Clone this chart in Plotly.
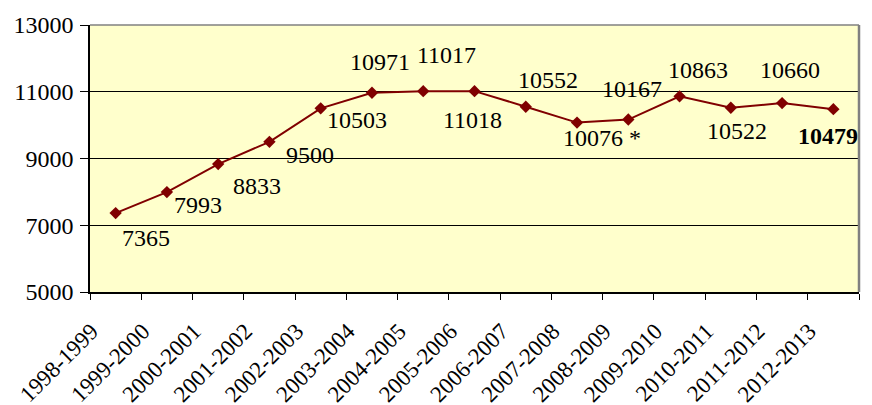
import plotly.graph_objects as go

categories = ["1998-1999", "1999-2000", "2000-2001", "2001-2002", "2002-2003",
              "2003-2004", "2004-2005", "2005-2006", "2006-2007", "2007-2008",
              "2008-2009", "2009-2010", "2010-2011", "2011-2012", "2012-2013"]
values = [7365, 7993, 8833, 9500, 10503, 10971, 11017, 11018, 10552, 10076,
          10167, 10863, 10522, 10660, 10479]
label_texts = ["7365", "7993", "8833", "9500", "10503", "10971", "11017", "11018",
               "10552", "10076 *", "10167", "10863", "10522", "10660", "<b>10479</b>"]
y_ticks = [5000, 7000, 9000, 11000, 13000]
y_tick_text = ["5000", "7000", "9000", "11000", "13000"]

# label offsets in pixels (style only)
label_dx = [30, 31, 39, 41, 36, 8, 23, -2, 22, 25, 4, 18, 6, 8, -5]
label_dy = [-25, -13, -22, -13, -12, 31, 36, -29, 27, -15, 31, 26, -23, 33, -27]

FONT = '"Liberation Serif", "Times New Roman", Times, serif'

fig = go.Figure()
fig.add_trace(go.Scatter(
    x=categories, y=values, mode="lines+markers",
    line=dict(color="#800000", width=2),
    marker=dict(symbol="diamond", size=9.5, color="#800000"),
    showlegend=False, hoverinfo="skip",
))

for c, v, t, dx, dy in zip(categories, values, label_texts, label_dx, label_dy):
    fig.add_annotation(x=c, y=v, text=t, showarrow=False, xref="x", yref="y",
                       xshift=dx, yshift=dy,
                       font=dict(family=FONT, size=24, color="black"))

# plot-area border (top and right, gray)
fig.add_shape(type="line", xref="paper", yref="paper", x0=0, x1=1, y0=1, y1=1,
              line=dict(color="#808080", width=1.5), layer="above")
fig.add_shape(type="line", xref="paper", yref="paper", x0=1, x1=1, y0=0, y1=1,
              line=dict(color="#808080", width=2.5), layer="above")

# page body has an 8px margin: size the figure to fill the rest of the window
fig.update_layout(
    width=864, height=397,
    margin=dict(l=82, r=13, t=17, b=113),
    paper_bgcolor="white", plot_bgcolor="#FFFFCC",
    font=dict(family=FONT, color="black"),
)
fig.update_xaxes(
    type="category", tickson="boundaries", ticks="outside", ticklen=6,
    tickcolor="black", showline=True, linecolor="black", linewidth=1.5,
    showgrid=False, tickangle=-45, tickfont=dict(family=FONT, size=23),
    range=[-0.5, len(categories) - 0.5], automargin=False,
    ticklabelstandoff=15, ticklabelshift=-24,
)
fig.update_yaxes(
    range=[5000, 13000], tickvals=y_ticks, ticktext=y_tick_text,
    ticks="outside", ticklen=8,
    tickcolor="black", showline=True, linecolor="black", linewidth=1.5,
    showgrid=True, gridcolor="black", gridwidth=1, zeroline=False,
    tickfont=dict(family=FONT, size=24), automargin=False,
    ticklabelstandoff=2,
)

fig.write_html("out.html")
